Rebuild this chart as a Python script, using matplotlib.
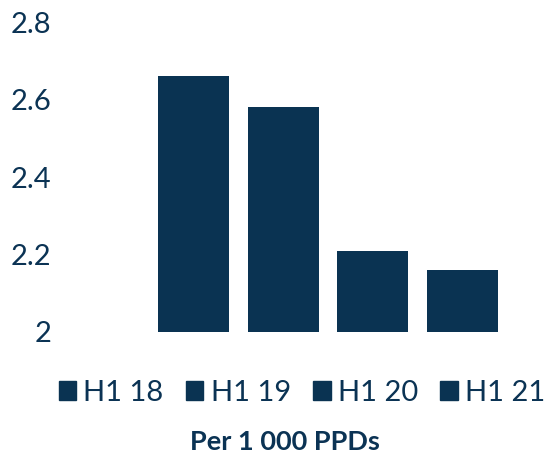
import matplotlib
matplotlib.use("Agg")
import matplotlib.pyplot as plt
from matplotlib.patches import Patch

plt.rcParams['font.family'] = ['Lato', 'DejaVu Sans']

# data
periods = ['H1 18', 'H1 19', 'H1 20', 'H1 21']
values = [2.66, 2.58, 2.21, 2.16]
yticks = [2, 2.2, 2.4, 2.6, 2.8]
ytick_labels = ['2', '2.2', '2.4', '2.6', '2.8']

navy = '#0a3352'
txt = '#0b3354'

fig = plt.figure(figsize=(5.5, 4.57), dpi=100)
ax = fig.add_axes([148.5 / 550, 1 - 332 / 457, 359 / 550, 310 / 457])

x = range(len(periods))
bars = ax.bar(x, values, width=0.79, color=navy)

ax.set_xlim(-0.5, 3.5)
ax.set_ylim(2, 2.8)
ax.set_yticks(yticks)
ax.set_yticklabels(ytick_labels)
ax.set_xticks([])
ax.tick_params(axis='y', length=0, pad=70, labelsize=21, labelcolor=txt)
for s in ax.spines.values():
    s.set_visible(False)

handles = [Patch(color=navy) for _ in periods]
fig.legend(handles, periods, loc='center', bbox_to_anchor=(302 / 550, 1 - 393 / 457),
           ncol=4, frameon=False, fontsize=21, labelcolor=txt,
           handlelength=0.6, handleheight=0.6, handletextpad=0.25,
           columnspacing=0.76, borderpad=0)

fig.text(284.5 / 550, 1 - 442 / 457, 'Per 1 000 PPDs', ha='center', va='center',
         fontsize=19.5, fontweight='bold', color=txt)

fig.savefig('out.png', dpi=100)
